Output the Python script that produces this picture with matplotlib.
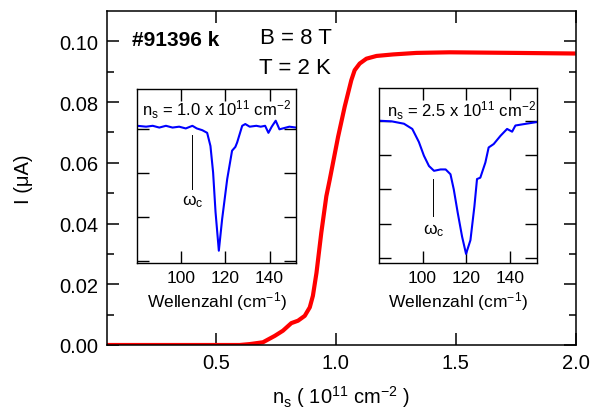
import matplotlib
matplotlib.use("Agg")
import matplotlib.pyplot as plt

plt.rcParams['font.family'] = ['Liberation Sans', 'DejaVu Sans']
plt.rcParams['mathtext.fontset'] = 'custom'
plt.rcParams['mathtext.rm'] = 'Liberation Sans'
plt.rcParams['mathtext.it'] = 'Liberation Sans:italic'
plt.rcParams['mathtext.bf'] = 'Liberation Sans:bold'

# ---- main curve: I vs n_s ----
ns = [0.045, 0.3, 0.6, 0.642, 0.697, 0.746, 0.780, 0.815, 0.843, 0.871, 0.892,
      0.905, 0.920, 0.940, 0.961, 0.975, 1.010, 1.0375, 1.065, 1.079, 1.100,
      1.128, 1.170, 1.239, 1.336, 1.475, 1.75, 2.0]
current = [0.0, 0.0, 0.0, 0.0003, 0.0009, 0.003, 0.0047, 0.0072, 0.008, 0.0096,
           0.0124, 0.0162, 0.0238, 0.037, 0.049, 0.0544, 0.0686, 0.0785, 0.0872,
           0.0905, 0.0927, 0.0943, 0.0952, 0.0957, 0.0962, 0.0964, 0.0962, 0.0960]
main_xticks = [0.5, 1.0, 1.5, 2.0]
main_xticklabels = ['0.5', '1.0', '1.5', '2.0']
main_yticks = [0.00, 0.02, 0.04, 0.06, 0.08, 0.10]
main_yticklabels = ['0.00', '0.02', '0.04', '0.06', '0.08', '0.10']

# ---- inset 1: n_s = 1.0 ----
wn1 = [80, 84, 87, 90, 93, 96, 99, 102, 105, 107, 109.5, 111.7, 113.2, 114.4,
       115.5, 117.0, 118.5, 120.8, 123.0, 124.5, 125.3, 127.6, 129, 131, 134,
       136, 138, 139.5, 141, 142.8, 144.5, 146, 149, 152]
tr1 = [1.004, 1.003, 1.004, 1.002, 1.004, 1.002, 1.003, 1.001, 1.004, 1.001,
       0.999, 0.996, 0.981, 0.951, 0.906, 0.862, 0.898, 0.9435, 0.9757, 0.980,
       0.985, 1.004, 1.006, 1.003, 1.004, 1.003, 1.004, 0.996, 1.003, 1.0098,
       1.0, 1.001, 1.003, 1.002]

# ---- inset 2: n_s = 2.5 ----
wn2 = [80, 86, 91.5, 95.3, 98.3, 100.6, 102.9, 105.2, 108.2, 110.5, 112.7,
       114.2, 116.0, 118.0, 119.8, 121.8, 123.6, 124.8, 126.3, 128.6, 130.1,
       132.4, 135.5, 138.5, 140.8, 142.3, 146.1, 152]
tr2 = [1.000, 0.999, 0.9956, 0.988, 0.969, 0.949, 0.934, 0.927, 0.929, 0.929,
       0.922, 0.900, 0.866, 0.831, 0.806, 0.826, 0.875, 0.915, 0.917, 0.939,
       0.961, 0.966, 0.978, 0.988, 0.984, 0.993, 0.995, 0.998]

inset_xticks = [100, 120, 140]
inset_xticklabels = ['100', '120', '140']
inset1_yticks = [0.85, 0.90, 0.95, 1.00]
inset2_yticks = [0.80, 0.85, 0.90, 0.95, 1.00]

fig = plt.figure(figsize=(6, 4.1), dpi=100)
ax = fig.add_axes([0.1775, 0.1561, 0.782, 0.8146])
ax.plot(ns, current, color='#ff0000', lw=3.0, solid_capstyle='butt')
ax.set_xlim(0.045, 2.0)
ax.set_ylim(0.0, 0.11)
ax.set_xticks(main_xticks)
ax.set_xticklabels(main_xticklabels)
ax.set_yticks(main_yticks)
ax.set_yticklabels(main_yticklabels)
ax.set_yticks([0.01, 0.03, 0.05, 0.07, 0.09], minor=True)
ax.tick_params(which='both', direction='in', top=True, right=True, labelsize=14.5,
               width=1.1, pad=6)
ax.tick_params(which='major', length=8.5)
ax.tick_params(which='minor', length=4.8)
for s in ax.spines.values():
    s.set_linewidth(1.1)
ax.set_xlabel('n$_\\mathregular{s}$ ( 10$^\\mathregular{11}$ cm$^\\mathregular{-2}$ )',
              fontsize=14.5, labelpad=8)
ax.set_ylabel('I (\u03bcA)', fontsize=14.5, labelpad=19)

ax.text(131.5 / 600, 1 - 41 / 410, '#91396 k', transform=fig.transFigure,
        fontsize=15, fontweight='bold', va='center', ha='left')
ax.text(260 / 600, 1 - 39 / 410, 'B = 8 T', transform=fig.transFigure,
        fontsize=16, va='center', ha='left')
ax.text(259 / 600, 1 - 68 / 410, 'T = 2 K', transform=fig.transFigure,
        fontsize=16, va='center', ha='left')


def style_inset(a, yt, ylim):
    a.set_xlim(80, 152)
    a.set_ylim(*ylim)
    a.set_xticks(inset_xticks)
    a.set_xticklabels(inset_xticklabels)
    a.set_yticks(yt)
    a.tick_params(direction='in', top=True, right=True, length=8.5, width=1.0,
                  labelsize=12.5, labelleft=False, pad=5)
    for s in a.spines.values():
        s.set_linewidth(1.0)
    a.set_xlabel('Wellenzahl (cm$^\\mathregular{-1}$)', fontsize=12.5, labelpad=3)


ax1 = fig.add_axes([0.2288, 0.3554, 0.2645, 0.4263])
ax1.plot(wn1, tr1, color='#0000ff', lw=1.5)
style_inset(ax1, inset1_yticks, (0.8477, 1.0464))
ax1.plot([104.9, 104.9], [0.994, 0.932], color='black', lw=0.7)
ax1.text(100.3, 0.919, '\u03c9$_\\mathregular{c}$', fontsize=12.5, va='center', ha='left')
ax1.text(0.03, 0.885, 'n$_\\mathregular{s}$ = 1.0 x 10$^\\mathregular{11}$ cm$^\\mathregular{-2}$',
         transform=ax1.transAxes, fontsize=12, va='center', ha='left', clip_on=False)

ax2 = fig.add_axes([0.6312, 0.3554, 0.2633, 0.4268])
ax2.plot(wn2, tr2, color='#0000ff', lw=1.5)
style_inset(ax2, inset2_yticks, (0.7923, 1.0472))
ax2.plot([104.7, 104.7], [0.915, 0.8615], color='black', lw=0.7)
ax2.text(100.3, 0.842, '\u03c9$_\\mathregular{c}$', fontsize=12.5, va='center', ha='left')
ax2.text(0.05, 0.875, 'n$_\\mathregular{s}$ = 2.5 x 10$^\\mathregular{11}$ cm$^\\mathregular{-2}$',
         transform=ax2.transAxes, fontsize=12, va='center', ha='left', clip_on=False)

fig.savefig('out.png', dpi=100)
